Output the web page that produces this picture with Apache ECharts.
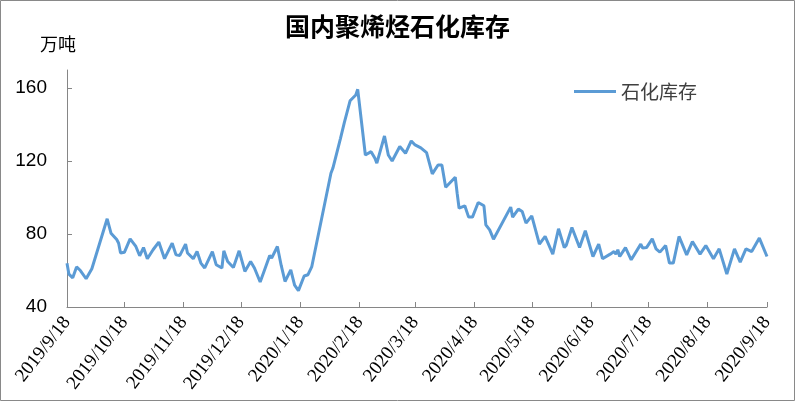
<!DOCTYPE html>
<html>
<head>
<meta charset="utf-8">
<script src="https://cdn.jsdelivr.net/npm/echarts@6/dist/echarts.min.js"></script>
<style>
html,body{margin:0;padding:0;background:#fff;}
#chart{width:795px;height:401px;}
</style>
</head>
<body>
<div id="chart"></div>
<script>
const dates = [
'2019/9/18','2019/9/19','2019/9/21','2019/9/23','2019/9/25','2019/9/28','2019/10/1','2019/10/9','2019/10/11','2019/10/14',
'2019/10/15','2019/10/16','2019/10/18','2019/10/21','2019/10/24','2019/10/26','2019/10/28','2019/10/30','2019/11/2','2019/11/5',
'2019/11/8','2019/11/9','2019/11/12','2019/11/14','2019/11/16','2019/11/19','2019/11/20','2019/11/23','2019/11/25','2019/11/27',
'2019/11/29','2019/12/3','2019/12/5','2019/12/8','2019/12/9','2019/12/11','2019/12/14','2019/12/17','2019/12/20','2019/12/23',
'2019/12/25','2019/12/28','2019/12/30','2020/1/2','2020/1/3','2020/1/6','2020/1/8','2020/1/10','2020/1/11','2020/1/13',
'2020/1/15','2020/1/17','2020/1/20','2020/1/22','2020/1/24','2020/2/3','2020/2/4','2020/2/8','2020/2/10','2020/2/13',
'2020/2/16','2020/2/17','2020/2/21','2020/2/24','2020/2/26','2020/2/27','2020/3/2','2020/3/4','2020/3/6','2020/3/10',
'2020/3/13','2020/3/16','2020/3/18','2020/3/21','2020/3/24','2020/3/27','2020/3/28','2020/3/30','2020/4/1','2020/4/3',
'2020/4/8','2020/4/9','2020/4/10','2020/4/13','2020/4/15','2020/4/17','2020/4/20','2020/4/23','2020/4/24','2020/4/26',
'2020/4/28','2020/5/7','2020/5/8','2020/5/11','2020/5/13','2020/5/15','2020/5/18','2020/5/22','2020/5/25','2020/5/29',
'2020/6/1','2020/6/4','2020/6/5','2020/6/8','2020/6/12','2020/6/15','2020/6/19','2020/6/22','2020/6/24','2020/6/28',
'2020/6/30','2020/7/1','2020/7/2','2020/7/3','2020/7/6','2020/7/9','2020/7/14','2020/7/15','2020/7/17','2020/7/20',
'2020/7/22','2020/7/24','2020/7/27','2020/7/29','2020/7/31','2020/8/3','2020/8/7','2020/8/10','2020/8/14','2020/8/17',
'2020/8/21','2020/8/24','2020/8/28','2020/9/1','2020/9/4','2020/9/7','2020/9/10','2020/9/14','2020/9/18'
];
const stock = [
64,58,56,62,60,55.5,61,88.4,80.5,77,
75,69.6,70,77.4,73.2,68.1,72.6,66.5,71.4,75.6,
66.5,66.8,75,68.6,68.3,74.5,69.6,66.5,70.4,64.1,
61.4,70.4,63.2,61.4,70.8,65,61.7,70.8,59.5,65,
61.4,53.7,59.5,68.3,66.8,73.2,62.8,54,53.7,60.4,
52,49,57,57.7,62.2,113.4,116.1,132.5,141.1,153.1,
156.3,159.4,123.4,125.2,121.6,118.9,133.8,123.4,120.1,128,
124.3,131.1,128.9,127.3,124.7,113,113,117.9,117.9,105.7,
111.2,102.4,94.2,95.5,89.3,89.3,97.3,95.5,85.1,82.3,
77.2,94.8,89.3,93.7,92.4,86,90,74.5,78.7,69,
82.9,72.6,73.7,83.6,72.6,81.8,67.7,74.5,66.5,69,
70.4,69,71.4,67.7,72.6,65.9,74.5,72.3,72.6,77.4,
71.9,70.1,73.7,64.1,64.1,78.7,68.6,75.9,69,73.7,
66.5,71.9,58.1,71.9,64.6,71.9,70.4,77.8,67.7
];
const tickDates = ['2019/9/18','2019/10/18','2019/11/18','2019/12/18','2020/1/18','2020/2/18','2020/3/18','2020/4/18','2020/5/18','2020/6/18','2020/7/18','2020/8/18','2020/9/18'];
const yTicks = [40, 80, 120, 160];
const seriesName = '石化库存';
const titleText = '国内聚烯烃石化库存';
const unitText = '万吨';

function dayIndex(s) {
  const p = s.split('/').map(Number);
  return Math.round((Date.UTC(p[0], p[1] - 1, p[2]) - Date.UTC(2019, 8, 18)) / 86400000);
}
const tickDays = tickDates.map(dayIndex);
const seriesData = dates.map((d, i) => [dayIndex(d), stock[i]]);

const chart = echarts.init(document.getElementById('chart'), null, {renderer: 'canvas'});
chart.setOption({
  animation: false,
  backgroundColor: '#fff',
  title: {
    text: titleText,
    left: 'center',
    top: 9,
    textStyle: {fontFamily: 'Noto Sans CJK SC', fontSize: 25, fontWeight: 'bold', color: '#000'}
  },
  legend: {
    left: 569,
    top: 77,
    icon: 'rect',
    itemWidth: 42,
    itemHeight: 3,
    itemGap: 6,
    textStyle: {fontFamily: 'Noto Sans CJK SC', fontSize: 19, color: '#404040'},
    data: [seriesName]
  },
  grid: {left: 67, right: 28, top: 70, bottom: 94, containLabel: false, outerBoundsMode: 'none'},
  xAxis: {
    type: 'value',
    min: tickDays[0],
    max: tickDays[tickDays.length - 1],
    splitLine: {show: false},
    axisLine: {lineStyle: {color: '#868686', width: 1}},
    axisTick: {show: true, inside: true, length: 5, customValues: tickDays, lineStyle: {color: '#868686'}},
    axisLabel: {
      customValues: tickDays,
      rotate: 52,
      margin: 12,
      fontFamily: 'Liberation Serif',
      fontSize: 19,
      color: '#000',
      formatter: function (v) {
        const i = tickDays.indexOf(v);
        return i >= 0 ? tickDates[i] : '';
      }
    }
  },
  yAxis: {
    type: 'value',
    min: 40,
    max: 170,
    interval: 40,
    splitLine: {show: false},
    axisLine: {show: true, lineStyle: {color: '#868686', width: 1}},
    axisTick: {show: true, inside: true, length: 5, customValues: yTicks, lineStyle: {color: '#868686'}},
    axisLabel: {customValues: yTicks, margin: 20, fontFamily: 'Liberation Sans', fontSize: 19, color: '#000'}
  },
  graphic: [
    {type: 'rect', shape: {x: 0.5, y: 0.5, width: 794, height: 400}, style: {fill: 'none', stroke: '#898989', lineWidth: 1}, silent: true},
    {type: 'text', left: 40, top: 35, style: {text: unitText, font: '18px "Noto Sans CJK SC"', fill: '#000'}}
  ],
  series: [{
    name: seriesName,
    type: 'line',
    data: seriesData,
    symbol: 'none',
    smooth: false,
    lineStyle: {color: '#5B9BD5', width: 3},
    itemStyle: {color: '#5B9BD5'}
  }]
});
</script>
</body>
</html>
